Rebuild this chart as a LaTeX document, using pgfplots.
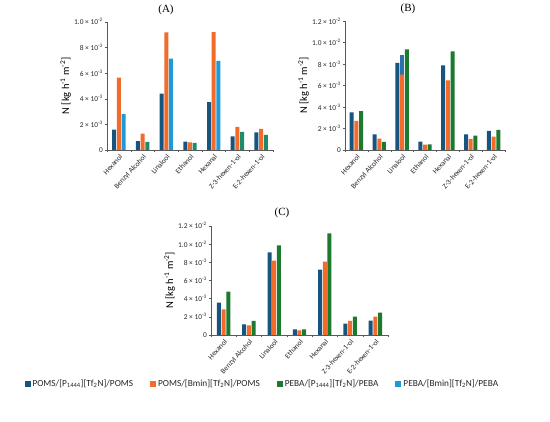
\documentclass[border=0pt]{standalone}
\usepackage{pgfplots}
\pgfplotsset{compat=1.18}
\usepackage{fontspec}
\setmainfont{Carlito}
\newfontfamily\titlefont{Liberation Serif}
\definecolor{dblue}{HTML}{17547F}
\definecolor{orng}{HTML}{F26B2A}
\definecolor{lblue}{HTML}{1E9BD7}
\definecolor{teal2}{HTML}{1D8C68}
\definecolor{grn}{HTML}{1B7A30}
\definecolor{mblue}{HTML}{2B71AC}
\definecolor{axgray}{HTML}{595959}
\newcommand{\sci}[2]{#1 × 10\textsuperscript{#2}}
\pgfplotsset{
  panel/.style={
    scale only axis,
    anchor=south west,
    ybar, bar width=4pt,
    xmin=-0.5, xmax=6.5, ymin=0,
    axis x line*=bottom, axis y line*=left,
    axis line style={axgray, line width=0.5pt},
    xtick={0,...,6},
    xticklabels={Hexanol,Benzyl Alcohol,Linalool,Ethanol,Hexanal,Z-3-hexen-1-ol,E-2-hexen-1-ol},
    major x tick style={draw=none},
    minor xtick={-0.5,0.5,...,6.5},
    minor tick length=2.5pt,
    minor x tick style={axgray},
    major y tick style={axgray},
    major tick length=2pt,
    tick align=outside,
    xticklabel style={rotate=48, anchor=north east, font=\fontsize{7.4}{8}\selectfont, inner sep=1pt, text=black!85},
    yticklabel style={font=\fontsize{7.4}{8}\selectfont, text=black!85, inner sep=2pt},
    ylabel={N [kg h\textsuperscript{-1} m\textsuperscript{-2}]},
    ylabel style={font=\fontsize{10.5}{12}\selectfont, inner sep=1pt},
    legend image code/.code={\fill[##1] (0pt,-3pt) rectangle (6pt,3pt);},
  },
}
\begin{document}
\begin{tikzpicture}
\path[use as bounding box] (0,0) rectangle (550pt,422pt);
% Panel A
\begin{axis}[panel, at={(107pt,272pt)}, width=166pt, height=128.3pt, ymax=10,
  ytick={0,2,4,6,8,10},
  yticklabels={0,\sci{2}{-3},\sci{4}{-3},\sci{6}{-3},\sci{8}{-3},\sci{1.0}{-2}}]
\addplot[fill=dblue, draw=none, bar shift=-4.7pt] coordinates {(0,1.59) (1,0.70) (2,4.39) (3,0.65) (4,3.73) (5,1.07) (6,1.38)};
\addplot[fill=orng, draw=none, bar shift=0pt] coordinates {(0,5.64) (1,1.28) (2,9.17) (3,0.60) (4,9.19) (5,1.80) (6,1.64)};
\addplot[fill=lblue, draw=none, bar shift=4.7pt] coordinates {(0,2.79) (2,7.13) (4,6.94)};
\addplot[fill=teal2, draw=none, bar shift=4.7pt] coordinates {(1,0.63) (3,0.55) (5,1.41) (6,1.17)};
\end{axis}
\node[font=\titlefont\fontsize{11}{12}\selectfont] at (166pt,412.5pt) {(A)};
% Panel B
\begin{axis}[panel, at={(345pt,272pt)}, width=160pt, height=129pt, ymax=12,
  ytick={0,2,4,6,8,10,12},
  yticklabels={0,\sci{2}{-3},\sci{4}{-3},\sci{6}{-3},\sci{8}{-3},\sci{1.0}{-2},\sci{1.2}{-2}}]
\addplot[fill=dblue, draw=none, bar shift=-4.7pt] coordinates {(0,3.50) (1,1.46) (2,8.10) (3,0.78) (4,7.88) (5,1.46) (6,1.78)};
\addplot[fill=mblue, draw=none, bar shift=0pt] coordinates {(2,8.82)};
\addplot[fill=orng, draw=none, bar shift=0pt] coordinates {(0,2.71) (1,1.06) (2,7.02) (3,0.50) (4,6.48) (5,1.03) (6,1.24)};
\addplot[fill=grn, draw=none, bar shift=4.7pt] coordinates {(0,3.61) (1,0.75) (2,9.35) (3,0.52) (4,9.17) (5,1.34) (6,1.87)};
\end{axis}
\node[font=\titlefont\fontsize{11}{12}\selectfont] at (408pt,413pt) {(B)};
% Panel C
\begin{axis}[panel, at={(211pt,87pt)}, width=177pt, height=109.3pt, ymax=12,
  ytick={0,2,4,6,8,10,12},
  yticklabels={0,\sci{2}{-3},\sci{4}{-3},\sci{6}{-3},\sci{8}{-3},\sci{1.0}{-2},\sci{1.2}{-2}},
  legend columns=4,
  legend style={at={(0.29,-0.448)}, anchor=center, draw=none, fill=none,
    font=\fontsize{9.3}{10}\selectfont, text=black!85,
    /tikz/every even column/.append style={column sep=15pt},
    inner sep=0pt},
  legend cell align=left]
\addplot[fill=dblue, draw=none, bar shift=-4.7pt] coordinates {(0,3.55) (1,1.17) (2,9.07) (3,0.62) (4,7.17) (5,1.24) (6,1.57)};
\addplot[fill=orng, draw=none, bar shift=0pt] coordinates {(0,2.82) (1,1.06) (2,8.16) (3,0.51) (4,8.05) (5,1.54) (6,2.01)};
\addplot[fill=grn, draw=none, bar shift=4.7pt] coordinates {(0,4.76) (1,1.54) (2,9.84) (3,0.62) (4,11.16) (5,2.01) (6,2.45)};
\addlegendimage{fill=lblue, draw=none}
\legend{POMS/[P\textsubscript{1444}][Tf\textsubscript{2}N]/POMS, POMS/[Bmin][Tf\textsubscript{2}N]/POMS, PEBA/[P\textsubscript{1444}][Tf\textsubscript{2}N]/PEBA, PEBA/[Bmin][Tf\textsubscript{2}N]/PEBA}
\end{axis}
\node[font=\titlefont\fontsize{11}{12}\selectfont] at (282pt,209.3pt) {(C)};
\end{tikzpicture}
\end{document}
